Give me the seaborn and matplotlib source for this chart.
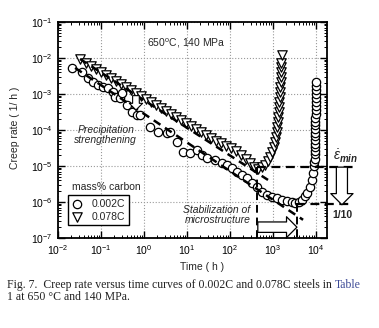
import numpy as np
import pandas as pd
import matplotlib
matplotlib.use("Agg")
import matplotlib.pyplot as plt
import seaborn as sns
from matplotlib.ticker import LogLocator, NullFormatter

# ---------------- data ----------------
# 0.002C steel (circles): time (h), creep rate (1/h)
t_002 = [0.021, 0.036, 0.050, 0.065, 0.085, 0.11, 0.146, 0.19, 0.21, 0.28,
         0.31, 0.40, 0.53, 0.69, 0.81, 1.38, 2.1, 3.4, 4.0, 5.9,
         8.1, 11.7, 17, 22, 29, 45, 65, 85, 111, 146,
         190, 248, 325, 425, 555, 725, 950, 1240, 1620, 2120,
         2770, 3250, 4030, 4720, 5550, 6180, 7250, 8070, 8510, 8980,
         9200, 9480, 9480, 9480, 9480, 9480, 9480, 9700, 9700, 9700,
         9700, 9700, 9700, 10000, 10000, 10000, 10000, 10000, 10000, 10200,
         10200, 10200]
r_002 = [5.3e-3, 4.1e-3, 2.8e-3, 2.15e-3, 1.78e-3, 1.56e-3, 1.47e-3, 1.14e-3, 8.3e-4, 7.7e-4,
         1.07e-3, 4.9e-4, 3.2e-4, 2.6e-4, 2.6e-4, 1.21e-4, 8.8e-5, 8.3e-5, 8.8e-5, 4.6e-5,
         2.45e-5, 2.3e-5, 2.8e-5, 2.0e-5, 1.67e-5, 1.47e-5, 1.21e-5, 1.07e-5, 8.8e-6, 6.8e-6,
         5.6e-6, 4.6e-6, 3.4e-6, 2.6e-6, 1.9e-6, 1.56e-6, 1.38e-6, 1.29e-6, 1.14e-6, 1.07e-6,
         1.0e-6, 9.4e-7, 1.0e-6, 1.14e-6, 1.47e-6, 1.78e-6, 2.6e-6, 4.1e-6, 6.4e-6, 1.0e-5,
         1.3e-5, 1.6e-5, 2.1e-5, 2.6e-5, 3.3e-5, 4.1e-5, 5.2e-5, 6.6e-5, 8.3e-5, 1.05e-4,
         1.35e-4, 1.7e-4, 2.2e-4, 2.8e-4, 3.6e-4, 4.6e-4, 6.0e-4, 7.8e-4, 1.0e-3, 1.3e-3,
         1.7e-3, 2.15e-3]

# 0.078C steel (triangles)
t_078 = [0.0325, 0.045, 0.059, 0.077, 0.10, 0.13, 0.17, 0.22, 0.29, 0.38,
         0.50, 0.65, 0.85, 1.11, 1.46, 1.9, 2.5, 3.25, 4.25, 5.5,
         7.2, 9.5, 12.4, 16.2, 21, 28, 36, 47, 62, 81,
         105, 138, 180, 235, 290, 360, 450, 555, 650, 765,
         850, 950, 1055, 1110, 1175, 1240, 1240, 1300, 1300, 1380,
         1380, 1380, 1455, 1455, 1455, 1530, 1530, 1530, 1530, 1530,
         1620]
r_078 = [9.4e-3, 7.3e-3, 6.0e-3, 4.9e-3, 4.1e-3, 3.4e-3, 2.8e-3, 2.3e-3, 1.9e-3, 1.56e-3,
         1.29e-3, 1.07e-3, 8.8e-4, 7.3e-4, 6.0e-4, 4.9e-4, 4.1e-4, 3.4e-4, 2.8e-4, 2.3e-4,
         1.9e-4, 1.56e-4, 1.29e-4, 1.07e-4, 8.8e-5, 7.3e-5, 6.0e-5, 4.9e-5, 4.35e-5, 3.6e-5,
         3.2e-5, 2.6e-5, 2.0e-5, 1.56e-5, 1.21e-5, 9.4e-6, 8.3e-6, 9.4e-6, 1.07e-5, 1.38e-5,
         1.78e-5, 2.45e-5, 3.4e-5, 4.6e-5, 6.4e-5, 8.8e-5, 1.21e-4, 1.67e-4, 2.3e-4, 3.2e-4,
         4.35e-4, 6.0e-4, 8.3e-4, 1.14e-3, 1.56e-3, 2.15e-3, 3.0e-3, 4.1e-3, 5.6e-3, 7.3e-3,
         1.2e-2]

# guide lines (transient-creep trends)
fit_002_t = [0.025, 5000]
fit_002_r = [5.3e-3, 3.2e-7]
fit_078_t = [0.0325, 765]
fit_078_r = [9.4e-3, 4.1e-6]

# minimum creep rates and times to minimum
tmin_078, emin_078 = 430, 9.3e-6
tmin_002, emin_002 = 3600, 8.8e-7

series_labels = ["0.002C", "0.078C"]

# ---------------- style ----------------
sns.set_theme(style="ticks")
plt.rcParams['font.family'] = ['Liberation Sans', 'DejaVu Sans']
plt.rcParams['mathtext.fontset'] = 'custom'
plt.rcParams['mathtext.rm'] = 'Liberation Sans'
plt.rcParams['mathtext.it'] = 'Liberation Sans:italic'
plt.rcParams['mathtext.bf'] = 'Liberation Sans:bold:italic'

W, H = 379, 328
fig = plt.figure(figsize=(W / 100, H / 100), dpi=100)
fig.patch.set_facecolor('white')


def fx(x):
    return x / W


def fy(y):
    return 1 - y / H


ax = fig.add_axes([fx(58), fy(238), fx(327) - fx(58), fy(22) - fy(238)])
ax.set_xscale('log')
ax.set_yscale('log')

df002 = pd.DataFrame({'t': t_002, 'r': r_002})
df078 = pd.DataFrame({'t': t_078, 'r': r_078})

sns.scatterplot(data=df002, x='t', y='r', ax=ax, marker='o', s=36,
                facecolor='white', edgecolor='black', linewidth=0.9,
                label=series_labels[0], zorder=3)
sns.scatterplot(data=df078, x='t', y='r', ax=ax, marker='v', s=46,
                facecolor='white', edgecolor='black', linewidth=0.9,
                label=series_labels[1], zorder=3)

# trend dashed lines
ax.plot(fit_002_t, fit_002_r, color='black', lw=1.8, ls=(0, (3.2, 2.2)), zorder=4)
ax.plot(fit_078_t, fit_078_r, color='black', lw=1.8, ls=(0, (3.2, 2.2)), zorder=4)

# minimum-rate marker lines
dash = (0, (4, 2.5))
ax.plot([tmin_078, tmin_078], [emin_078, 1e-7], color='black', lw=1.4, ls=dash, zorder=4)
ax.plot([tmin_002, tmin_002], [emin_002, 1e-7], color='black', lw=1.4, ls=dash, zorder=4)
ax.plot([tmin_078, 7.2e4], [emin_078, emin_078], color='black', lw=1.6, ls=dash,
        zorder=4, clip_on=False)
ax.plot([3400, 7.2e4], [emin_002, emin_002], color='black', lw=1.6, ls=dash,
        zorder=4, clip_on=False)

# hollow arrows
ax.annotate('', xy=(tmin_002, 2.0e-7), xytext=(tmin_078 * 1.03, 2.0e-7),
            arrowprops=dict(arrowstyle='simple,head_length=0.75,head_width=1.5,tail_width=0.75',
                            fc='white', ec='black', lw=0.9, mutation_scale=10,
                            shrinkA=0, shrinkB=0), zorder=5)
ax.annotate('', xy=(4.0e4, 8.4e-7), xytext=(4.0e4, 9.3e-6),
            arrowprops=dict(arrowstyle='simple,head_length=0.8,head_width=1.6,tail_width=0.8',
                            fc='white', ec='black', lw=0.9, mutation_scale=10,
                            shrinkA=0, shrinkB=0), annotation_clip=False, zorder=5)
ax.annotate('', xy=(0.65, 3.6e-4), xytext=(0.65, 9.0e-4),
            arrowprops=dict(arrowstyle='simple,head_length=0.6,head_width=1.2,tail_width=0.6',
                            fc='white', ec='black', lw=0.8, mutation_scale=8,
                            shrinkA=0, shrinkB=0), zorder=5)

# axes limits, ticks, grid
ax.set_xlim(0.01, 1.8e4)
ax.set_ylim(1e-7, 1e-1)
for axis in (ax.xaxis, ax.yaxis):
    axis.set_major_locator(LogLocator(base=10, numticks=20))
    axis.set_minor_locator(LogLocator(base=10, subs=np.arange(2, 10), numticks=20))
    axis.set_minor_formatter(NullFormatter())
ax.tick_params(which='both', direction='in', top=True, right=True, colors='black',
               labelsize=7.5)
ax.tick_params(which='major', length=5, width=1.0, pad=4)
ax.tick_params(which='minor', length=2.5, width=0.7)
ax.grid(which='major', ls=':', color='#9a9a9a', lw=0.8)
ax.grid(which='minor', visible=False)
for sp in ax.spines.values():
    sp.set_color('black')
    sp.set_linewidth(1.3)
ax.set_xlabel('')
ax.set_ylabel('')

# legend
handles, labels = ax.get_legend_handles_labels()
leg = ax.legend(handles, labels, loc='upper left', bbox_to_anchor=(fx(68), fy(195)),
                bbox_transform=fig.transFigure, frameon=True, fancybox=False,
                edgecolor='black', framealpha=1, fontsize=7.5, borderpad=0.35,
                labelspacing=0.3, handlelength=1.0, handletextpad=0.9, borderaxespad=0)
leg.get_frame().set_linewidth(1.0)
leg.set_zorder(6)

# texts
fs = 7.5
fig.text(fx(186), fy(43), '650$^{\\rm o}$C, 140 MPa', ha='center', va='center', size=fs)
fig.text(fx(106), fy(130), 'Precipitation', ha='center', va='center', size=fs, style='italic')
fig.text(fx(105), fy(140), 'strengthening', ha='center', va='center', size=fs, style='italic')
fig.text(fx(217), fy(210), 'Stabilization of', ha='center', va='center', size=fs, style='italic')
fig.text(fx(218), fy(220), 'microstructure', ha='center', va='center', size=fs, style='italic')
fig.text(fx(106), fy(187), 'mass% carbon', ha='center', va='center', size=fs)
fig.text(fx(346), fy(156), r'$\dot{\varepsilon}_{\mathbf{min}}$', ha='center', va='center', size=10)
fig.text(fx(342), fy(215), '1/10', ha='center', va='center', size=fs, weight='bold')
fig.text(fx(15), fy(128), 'Creep rate ( 1/ h )', ha='center', va='center', size=fs, rotation=90)
fig.text(fx(202), fy(267), 'Time ( h )', ha='center', va='center', size=fs)

# caption (two lines in one text; "Table" in blue after line 1)
serif = ['Liberation Serif', 'DejaVu Serif']
cap_fs = 8.5
line1 = 'Fig. 7.  Creep rate versus time curves of 0.002C and 0.078C steels in '
line2 = '1 at 650 \u00b0C and 140 MPa.'
cap = fig.text(fx(7), fy(279), line1 + '\n' + line2, ha='left', va='top', size=cap_fs,
               family=serif, color='#222222', linespacing=1.02)
probe = fig.text(fx(7), fy(279), line1, ha='left', va='top', size=cap_fs, family=serif)
fig.canvas.draw()
bb = probe.get_window_extent()
probe.remove()
fig.text(bb.x1 / W, fy(279), 'Table', ha='left', va='top', size=cap_fs, family=serif,
         color='#3c4a96')

fig.savefig('out.png', dpi=100, facecolor='white')
